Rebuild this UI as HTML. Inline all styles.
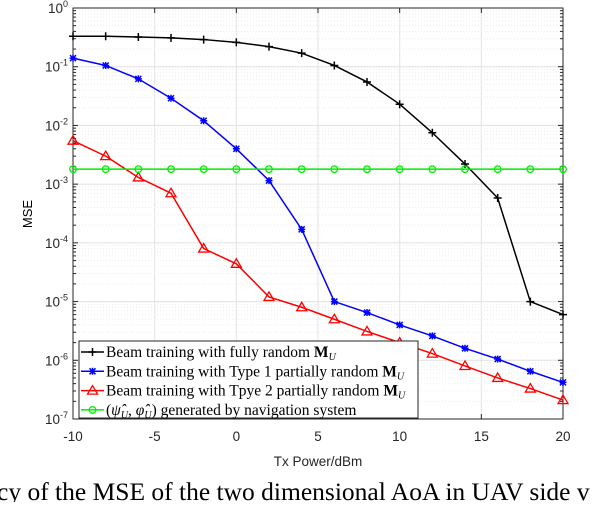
<!DOCTYPE html>
<html><head><meta charset="utf-8"><style>
body{margin:0;background:#fff;width:602px;height:502px;overflow:hidden}
svg text{font-family:"Liberation Sans",sans-serif}
</style></head><body>
<svg id="chart" width="602" height="502" xmlns="http://www.w3.org/2000/svg">
<g id="grid"></g>
<g id="axes"></g>
<g id="series"></g>
<text x="32" y="214" font-size="13" text-anchor="middle" transform="rotate(-90 32 214)">MSE</text>
<text x="318" y="466" font-size="13.5" text-anchor="middle" fill="#262626">Tx Power/dBm</text>
<text x="-3" y="500" font-size="25.5" style="font-family:'Liberation Serif',serif">cy of the MSE of the two dimensional AoA in UAV side v</text>
<g id="legend"></g>
</svg>
<script>
const xs=[-10,-8,-6,-4,-2,0,2,4,6,8,10,12,14,16,18,20];
const fullyRandom=[0.33,0.33,0.32,0.31,0.29,0.26,0.22,0.17,0.105,0.055,0.023,0.0075,0.0022,0.00058,1e-5,6e-6];
const type1=[0.14,0.105,0.062,0.029,0.012,0.004,0.00115,0.00017,1e-5,6.5e-6,4e-6,2.6e-6,1.6e-6,1.05e-6,6.5e-7,4.2e-7];
const type2=[5.5e-3,3e-3,1.3e-3,7e-4,8e-5,4.4e-5,1.2e-5,8e-6,5e-6,3.1e-6,2e-6,1.3e-6,8e-7,5e-7,3.3e-7,2.1e-7];
const navigation=[1.8e-3,1.8e-3,1.8e-3,1.8e-3,1.8e-3,1.8e-3,1.8e-3,1.8e-3,1.8e-3,1.8e-3,1.8e-3,1.8e-3,1.8e-3,1.8e-3,1.8e-3,1.8e-3];
const xTicks=[-10,-5,0,5,10,15,20];
const yExps=[0,-1,-2,-3,-4,-5,-6,-7];
const legendLabels=["Beam training with fully random ","Beam training with Type 1 partially random ","Beam training with Tpye 2 partially random ","generated by navigation system"];

const L=73,R=563,T=8,B=419;
const X=v=>L+(v+10)/30*(R-L);
const Y=v=>T+(-Math.log10(v))/7*(B-T);
const NS="http://www.w3.org/2000/svg";
function mk(tag,attrs,parent){const e=document.createElementNS(NS,tag);for(const k in attrs)e.setAttribute(k,attrs[k]);parent.appendChild(e);return e;}
const grid=document.getElementById('grid'),axes=document.getElementById('axes'),ser=document.getElementById('series'),leg=document.getElementById('legend');
for(const t of xTicks){const l=mk('line',{x1:X(t),x2:X(t),y1:T,y2:B,stroke:'#e3e3e3','stroke-width':1},grid);

}
for(let e=-7;e<0;e++){for(let m=1;m<10;m++){const v=m*Math.pow(10,e);const y=Y(v);
const l=mk('line',{x1:L,x2:R,y1:y,y2:y,stroke:m==1?'#e0e0e0':'#ececec','stroke-width':1,'stroke-dasharray':m==1?'':'1,2'},grid);

}}
const box=mk('rect',{x:L,y:T,width:R-L,height:B-T,fill:'none',stroke:'#262626','stroke-width':1},axes);


for(const t of xTicks){mk('line',{x1:X(t),x2:X(t),y1:B,y2:B-5,stroke:'#262626'},axes);mk('line',{x1:X(t),x2:X(t),y1:T,y2:T+5,stroke:'#262626'},axes);
const tx=mk('text',{x:X(t),y:B+22,'font-size':13.5,'text-anchor':'middle',fill:'#262626'},axes);tx.textContent=t;

}
for(const e of yExps){const y=Y(Math.pow(10,e));mk('line',{x1:L,x2:L+5,y1:y,y2:y,stroke:'#262626'},axes);mk('line',{x1:R,x2:R-5,y1:y,y2:y,stroke:'#262626'},axes);
const tx=mk('text',{x:L-5,y:y+5,'font-size':13.5,'text-anchor':'end',fill:'#262626'},axes);
tx.innerHTML='10<tspan dy="-6" font-size="9">'+e+'</tspan>';


if(e>-7)for(let m=2;m<10;m++){const yy=Y(m*Math.pow(10,e-1));mk('line',{x1:L,x2:L+3,y1:yy,y2:yy,stroke:'#262626'},axes);mk('line',{x1:R,x2:R-3,y1:yy,y2:yy,stroke:'#262626'},axes);}}
function marker(type,x,y,c,g){
if(type==='plus'){mk('path',{d:`M${x-4} ${y}H${x+4}M${x} ${y-4}V${y+4}`,stroke:c,'stroke-width':1.5,fill:'none'},g);}
else if(type==='star'){mk('path',{d:`M${x-3.5} ${y}H${x+3.5}M${x} ${y-3.5}V${y+3.5}M${x-3} ${y-3}L${x+3} ${y+3}M${x-3} ${y+3}L${x+3} ${y-3}`,stroke:c,'stroke-width':1.5,fill:'none'},g);}
else if(type==='tri'){mk('path',{d:`M${x} ${y-5}L${x+5} ${y+3.5}L${x-5} ${y+3.5}Z`,stroke:c,'stroke-width':1.3,fill:'none'},g);}
else mk('circle',{cx:x,cy:y,r:3.3,stroke:c,'stroke-width':1.3,fill:'none'},g);}
const defs=[[fullyRandom,'#000','plus','series-fully-random'],[type1,'#0000ff','star','series-type1'],[type2,'#ff0000','tri','series-type2'],[navigation,'#00ee00','circ','series-navigation']];
for(const [d,c,m,n] of defs){const g=mk('g',{},ser);
mk('polyline',{points:xs.map((x,i)=>X(x)+','+Y(d[i])).join(' '),fill:'none',stroke:c,'stroke-width':1.5},g);
xs.forEach((x,i)=>marker(m,X(x),Y(d[i]),c,g));}
const lb=mk('rect',{x:79,y:341,width:339,height:77,fill:'#fff',stroke:'#262626','stroke-width':1},leg);


defs.forEach(([d,c,m,n],i)=>{const y=352+i*19.3;const g=mk('g',{},leg);


mk('line',{x1:81,x2:104,y1:y,y2:y,stroke:c,'stroke-width':1.5},g);marker(m,92.5,y,c,g);
const t=mk('text',{x:106,y:y+5,'font-size':15.5,fill:'#000',style:"font-family:'Liberation Serif',serif"},g);
if(i<3)t.innerHTML=legendLabels[i]+'<tspan font-weight="bold">M</tspan><tspan font-style="italic" font-size="10" dy="3">U</tspan>';
else t.innerHTML='(<tspan font-style="italic">ψ̂</tspan><tspan font-style="italic" font-size="10" dy="3">U</tspan><tspan dy="-3">, </tspan><tspan font-style="italic">φ̂</tspan><tspan font-style="italic" font-size="10" dy="3">U</tspan><tspan dy="-3">) '+legendLabels[3]+'</tspan>';});
</script>
</body></html>
